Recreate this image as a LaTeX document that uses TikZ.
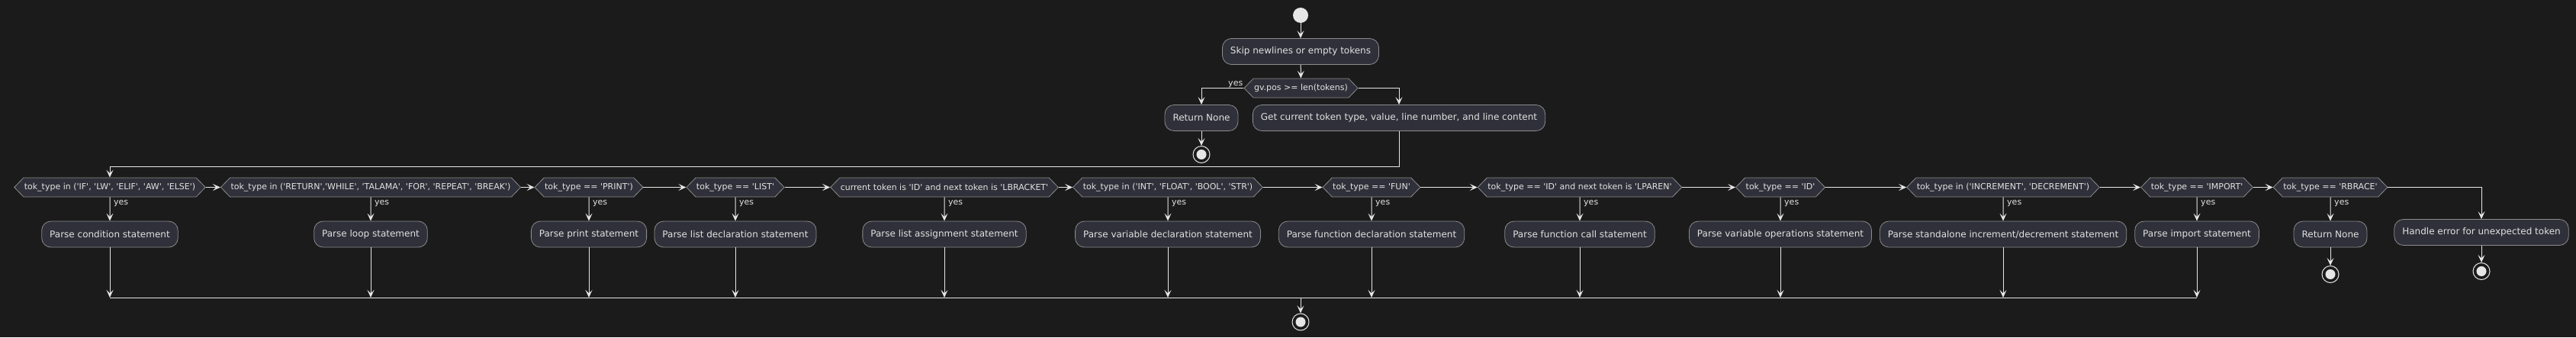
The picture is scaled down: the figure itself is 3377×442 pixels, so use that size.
\documentclass[tikz,border=0pt]{standalone}
\usepackage{fontspec}
\newfontfamily\umlfont{DejaVu Sans}
\usetikzlibrary{arrows.meta,shapes.symbols}
\definecolor{bgcol}{HTML}{1B1B1B}
\definecolor{boxfill}{HTML}{2F3039}
\definecolor{boxline}{HTML}{8C8C8C}
\definecolor{flowcol}{HTML}{E6E6E6}
\definecolor{txtcol}{HTML}{E2E2E2}
\tikzset{
  action/.style={draw=boxline,fill=boxfill,rounded corners=12pt,minimum height=34pt,inner xsep=10.5pt,text=txtcol,line width=0.8pt,font=\umlfont\fontsize{12}{14}\selectfont},
  decision/.style={draw=boxline,fill=boxfill,signal,signal to=east and west,signal pointer angle=92,minimum height=25pt,inner xsep=1pt,inner ysep=0pt,text=txtcol,line width=0.8pt,font=\umlfont\fontsize{11}{13}\selectfont},
  flow/.style={draw=flowcol,line width=1pt},
  arr/.style={flow,-{Stealth[length=10pt,width=9pt,inset=4.5pt]}},
  lbl/.style={text=txtcol,inner sep=0pt,font=\umlfont\fontsize{11}{13}\selectfont},
  startnode/.style={circle,fill=flowcol,minimum size=20pt,inner sep=0pt},
  endnode/.style={circle,draw=flowcol,fill=bgcol,line width=1pt,minimum size=22pt,inner sep=0pt,path picture={\fill[flowcol] (path picture bounding box.center) circle (6.5pt);}}
}
\begin{document}
\begin{tikzpicture}[x=1pt,y=-1pt]
	%canvas
	\fill[bgcol] (0,0) rectangle (3377,442);
	\useasboundingbox (0,0) rectangle (3377,442);

	%top part-----------------------------------------------
	\node[startnode] (start) at (1705,20) {}; %start
	\node[action] (skip) at (1705,67.5) {Skip newlines or empty tokens}; %skip
	\node[decision] (dpos) at (1705.5,115.5) {gv.pos >= len(tokens)}; %end of tokens?
	\node[action] (ret1) at (1575,154.5) {Return None}; %return
	\node[endnode] (end1) at (1575,202.5) {}; %stop
	\node[action] (getcur) at (1834,154.5) {Get current token type, value, line number, and line content}; %get token
	\coordinate (toprail) at (0,218); %loop back rail
	\coordinate (merge) at (1705,390); %merge rail

	\draw[arr] (start) -- (skip);
	\draw[arr] (skip) -- (dpos);
	\draw[arr] (dpos.west) -| (ret1.north);
	\node[lbl,anchor=base east] (yes0) at ([xshift=-1pt,yshift=3.5pt]dpos.west) {yes}; %yes label
	\draw[arr] (ret1) -- (end1);
	\draw[arr] (dpos.east) -| (getcur.north);

	%decisions----------------------------------------------
	\node[decision] (d1) at (144,245.5) {tok\_type in ('IF', 'LW', 'ELIF', 'AW', 'ELSE')};
	\node[decision] (d2) at (486,245.5) {tok\_type in ('RETURN','WHILE', 'TALAMA', 'FOR', 'REPEAT', 'BREAK')};
	\node[decision] (d3) at (772,245.5) {tok\_type == 'PRINT')};
	\node[decision] (d4) at (964,245.5) {tok\_type == 'LIST'};
	\node[decision] (d5) at (1238,245.5) {current token is 'ID' and next token is 'LBRACKET'};
	\node[decision] (d6) at (1531,245.5) {tok\_type in ('INT', 'FLOAT', 'BOOL', 'STR')};
	\node[decision] (d7) at (1798,245.5) {tok\_type == 'FUN'};
	\node[decision] (d8) at (2071,245.5) {tok\_type == 'ID' and next token is 'LPAREN'};
	\node[decision] (d9) at (2334,245.5) {tok\_type == 'ID'};
	\node[decision] (d10) at (2626,245.5) {tok\_type in ('INCREMENT', 'DECREMENT')};
	\node[decision] (d11) at (2880,245.5) {tok\_type == 'IMPORT'};
	\node[decision] (d12) at (3055,245.5) {tok\_type == 'RBRACE'};

	%actions------------------------------------------------
	\node[action] (a1) at (144,307) {Parse condition statement};
	\node[action] (a2) at (486,307) {Parse loop statement};
	\node[action] (a3) at (772,307) {Parse print statement};
	\node[action] (a4) at (964,307) {Parse list declaration statement};
	\node[action] (a5) at (1238,307) {Parse list assignment statement};
	\node[action] (a6) at (1531,307) {Parse variable declaration statement};
	\node[action] (a7) at (1798,307) {Parse function declaration statement};
	\node[action] (a8) at (2071,307) {Parse function call statement};
	\node[action] (a9) at (2334,307) {Parse variable operations statement};
	\node[action] (a10) at (2626,307) {Parse standalone increment/decrement statement};
	\node[action] (a11) at (2880,307) {Parse import statement};
	\node[action] (ret2) at (3055,307) {Return None}; %rbrace return
	\node[endnode] (end2) at (3055,359.5) {};
	\node[action] (err) at (3253,304.5) {Handle error for unexpected token}; %else
	\node[endnode] (end3) at (3253,355.5) {};
	\node[endnode] (endall) at (1705,422) {}; %final stop

	%connectors---------------------------------------------
	\draw[arr] (getcur.south) -- (getcur.south |- toprail) -| (d1.north); %loop back
	\draw[arr] (d1.east) -- (d2.west);
	\draw[arr] (d2.east) -- (d3.west);
	\draw[arr] (d3.east) -- (d4.west);
	\draw[arr] (d4.east) -- (d5.west);
	\draw[arr] (d5.east) -- (d6.west);
	\draw[arr] (d6.east) -- (d7.west);
	\draw[arr] (d7.east) -- (d8.west);
	\draw[arr] (d8.east) -- (d9.west);
	\draw[arr] (d9.east) -- (d10.west);
	\draw[arr] (d10.east) -- (d11.west);
	\draw[arr] (d11.east) -- (d12.west);
	\draw[arr] (d12.east) -| (err.north); %no match
	\draw[arr] (d1) -- (a1);
	\draw[arr] (d2) -- (a2);
	\draw[arr] (d3) -- (a3);
	\draw[arr] (d4) -- (a4);
	\draw[arr] (d5) -- (a5);
	\draw[arr] (d6) -- (a6);
	\draw[arr] (d7) -- (a7);
	\draw[arr] (d8) -- (a8);
	\draw[arr] (d9) -- (a9);
	\draw[arr] (d10) -- (a10);
	\draw[arr] (d11) -- (a11);
	\draw[arr] (d12) -- (ret2);
	\draw[arr] (ret2) -- (end2);
	\draw[arr] (err) -- (end3);

	%yes labels
	\node[lbl,anchor=base west] (yes1) at ([xshift=5pt,yshift=-10pt]d1.south) {yes};
	\node[lbl,anchor=base west] (yes2) at ([xshift=5pt,yshift=-10pt]d2.south) {yes};
	\node[lbl,anchor=base west] (yes3) at ([xshift=5pt,yshift=-10pt]d3.south) {yes};
	\node[lbl,anchor=base west] (yes4) at ([xshift=5pt,yshift=-10pt]d4.south) {yes};
	\node[lbl,anchor=base west] (yes5) at ([xshift=5pt,yshift=-10pt]d5.south) {yes};
	\node[lbl,anchor=base west] (yes6) at ([xshift=5pt,yshift=-10pt]d6.south) {yes};
	\node[lbl,anchor=base west] (yes7) at ([xshift=5pt,yshift=-10pt]d7.south) {yes};
	\node[lbl,anchor=base west] (yes8) at ([xshift=5pt,yshift=-10pt]d8.south) {yes};
	\node[lbl,anchor=base west] (yes9) at ([xshift=5pt,yshift=-10pt]d9.south) {yes};
	\node[lbl,anchor=base west] (yes10) at ([xshift=5pt,yshift=-10pt]d10.south) {yes};
	\node[lbl,anchor=base west] (yes11) at ([xshift=5pt,yshift=-10pt]d11.south) {yes};
	\node[lbl,anchor=base west] (yes12) at ([xshift=5pt,yshift=-10pt]d12.south) {yes};

	%merge
	\draw[arr] (a1.south) -- (a1.south |- merge);
	\draw[arr] (a2.south) -- (a2.south |- merge);
	\draw[arr] (a3.south) -- (a3.south |- merge);
	\draw[arr] (a4.south) -- (a4.south |- merge);
	\draw[arr] (a5.south) -- (a5.south |- merge);
	\draw[arr] (a6.south) -- (a6.south |- merge);
	\draw[arr] (a7.south) -- (a7.south |- merge);
	\draw[arr] (a8.south) -- (a8.south |- merge);
	\draw[arr] (a9.south) -- (a9.south |- merge);
	\draw[arr] (a10.south) -- (a10.south |- merge);
	\draw[arr] (a11.south) -- (a11.south |- merge);
	\draw[flow] (a1.south |- merge) -- (a11.south |- merge); %merge line
	\draw[arr] (merge) -- (endall);
\end{tikzpicture}
\end{document}
